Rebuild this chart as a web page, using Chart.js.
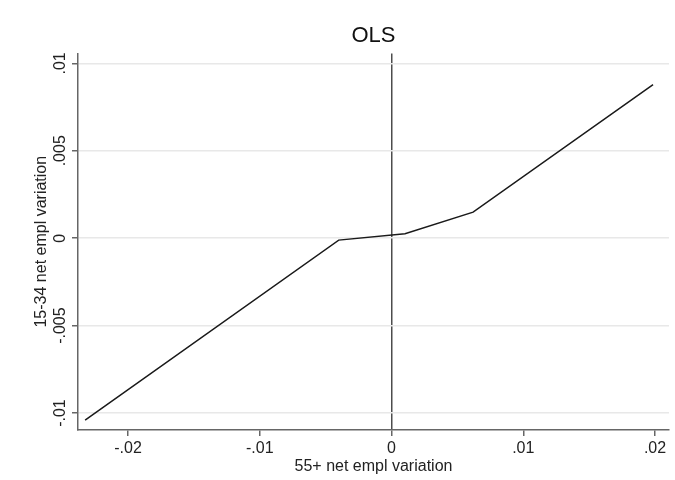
<!DOCTYPE html>
<html>
<head>
<meta charset="utf-8">
<script src="https://cdn.jsdelivr.net/npm/chart.js@4"></script>
<style>
  html, body { margin: 0; padding: 0; background: #fff; }
  #wrap { width: 675px; height: 480px; }
</style>
</head>
<body>
<div id="wrap"><canvas id="grafico" width="675" height="480"></canvas></div>
<script>
// valores
const xValores = [-0.02326, -0.00401, 0.00102, 0.00619, 0.01985];
const yValores = [-0.0104, -0.00011, 0.00025, 0.00149, 0.00878];

const xTicks = [-0.02, -0.01, 0, 0.01, 0.02];
const xRotulos = ["-.02", "-.01", "0", ".01", ".02"];
const yTicks = [-0.01, -0.005, 0, 0.005, 0.01];
const yRotulos = ["-.01", "-.005", "0", ".005", ".01"];

const xLimites = [-0.0238, 0.02106];
const yLimites = [-0.01097, 0.01057];

const FONTE = "'Liberation Sans', Arial, Helvetica, sans-serif";

function rotulo(lista, rotulos) {
    return (valor) => {
        const i = lista.findIndex(v => Math.abs(v - valor) < 1e-9);
        return i >= 0 ? rotulos[i] : "";
    };
}

const pontos = xValores.map((x, i) => ({ x: x, y: yValores[i] }));

new Chart(document.getElementById("grafico"), {
    type: "scatter",
    data: {
        datasets: [{
            data: pontos,
            showLine: true,
            borderColor: "#1a1a1a",
            borderWidth: 1.5,
            pointRadius: 0,
            tension: 0
        }]
    },
    options: {
        responsive: false,
        animation: false,
        layout: { padding: { top: 0, right: 6, bottom: 0, left: 0 } },
        plugins: {
            legend: { display: false },
            tooltip: { enabled: false },
            title: {
                display: true,
                text: "OLS",
                fullSize: false,
                color: "#111",
                font: { family: FONTE, size: 22, weight: "normal" },
                padding: { top: 23, bottom: 4 }
            }
        },
        scales: {
            x: {
                type: "linear",
                min: xLimites[0],
                max: xLimites[1],
                afterBuildTicks: (escala) => { escala.ticks = xTicks.map(v => ({ value: v })); },
                afterFit: (escala) => { escala.height = 50; },
                ticks: {
                    callback: rotulo(xTicks, xRotulos),
                    color: "#222",
                    font: { family: FONTE, size: 16 },
                    padding: 3,
                    maxRotation: 0,
                    minRotation: 0
                },
                grid: {
                    color: (ctx) => (ctx.tick && Math.abs(ctx.tick.value) < 1e-9 ? "#4d4d4d" : "rgba(0,0,0,0)"),
                    lineWidth: 1.5,
                    tickColor: "#666",
                    tickLength: 6
                },
                border: { color: "#666", width: 1.5 },
                title: {
                    display: true,
                    text: "55+ net empl variation",
                    color: "#222",
                    font: { family: FONTE, size: 16 },
                    padding: { top: 0, bottom: 4 }
                }
            },
            y: {
                type: "linear",
                min: yLimites[0],
                max: yLimites[1],
                afterBuildTicks: (escala) => { escala.ticks = yTicks.map(v => ({ value: v })); },
                afterFit: (escala) => { escala.width = 78; },
                ticks: {
                    callback: rotulo(yTicks, yRotulos),
                    color: "#222",
                    font: { family: FONTE, size: 16 },
                    minRotation: 90,
                    maxRotation: 90,
                    crossAlign: "center",
                    padding: -7
                },
                grid: {
                    color: "#e8e8e8",
                    lineWidth: 1.5,
                    tickColor: "#666",
                    tickLength: 6
                },
                border: { color: "#666", width: 1.5 },
                title: {
                    display: true,
                    text: "15-34 net empl variation",
                    color: "#222",
                    font: { family: FONTE, size: 16 },
                    padding: { top: 32, bottom: 0 }
                }
            }
        }
    }
});
</script>
</body>
</html>
